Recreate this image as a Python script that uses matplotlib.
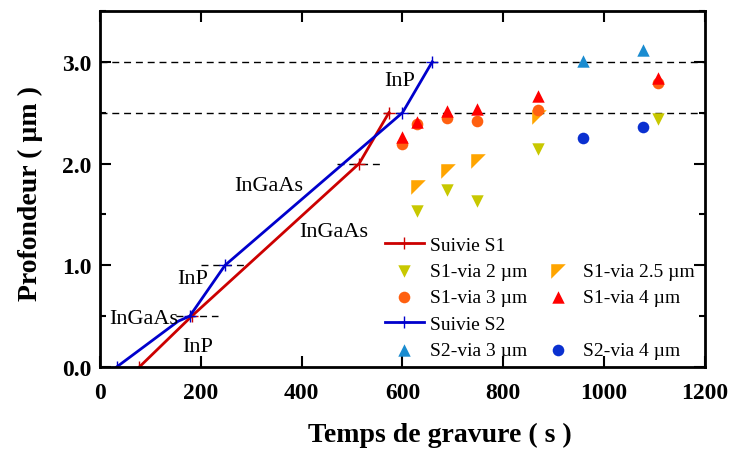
import matplotlib
matplotlib.use("Agg")
import matplotlib.pyplot as plt
from matplotlib.lines import Line2D
from matplotlib.path import Path

plt.rcParams['font.family'] = ['Liberation Serif', 'DejaVu Serif']

# etching follow-up curves
s1_t = [78, 182, 514, 573]
s1_d = [0.0, 0.5, 2.0, 2.5]
s2_t = [33, 155, 178, 248, 600, 659]
s2_d = [0.0, 0.45, 0.5, 1.0, 2.5, 3.0]

# via depths, sample S1
s1v2_t = [629, 688, 748, 869, 1107]
s1v2_d = [1.53, 1.74, 1.63, 2.14, 2.44]
s1v25_t = [631, 690, 750, 870]
s1v25_d = [1.77, 1.93, 2.03, 2.46]
s1v3_t = [599, 629, 688, 748, 869, 1107]
s1v3_d = [2.19, 2.39, 2.45, 2.42, 2.53, 2.79]
s1v4_t = [599, 629, 688, 748, 869, 1107]
s1v4_d = [2.26, 2.41, 2.52, 2.54, 2.66, 2.84]

# via depths, sample S2
s2v3_t = [958, 1077]
s2v3_d = [3.01, 3.12]
s2v4_t = [958, 1077]
s2v4_d = [2.25, 2.36]

# layer interfaces
full_lines = [2.5, 3.0]
short_lines = [(0.5, 150, 235), (1.0, 200, 290), (2.0, 470, 555)]

# layer names (text, x, y)
layers = [("InP", 595, 2.82), ("InGaAs", 334, 1.78), ("InGaAs", 464, 1.33),
          ("InP", 184, 0.87), ("InGaAs", 87, 0.48), ("InP", 193, 0.20)]

# corner-shaped marker for the 2.5 um vias
corner = Path([(-1, 1), (1, 1), (-1, -1), (-1, 1)],
              [Path.MOVETO, Path.LINETO, Path.LINETO, Path.CLOSEPOLY])

fig = plt.figure(figsize=(7.33, 4.52), dpi=100)
ax = fig.add_axes([0.1364, 0.1858, 0.8254, 0.7877])

for y in full_lines:
    ax.axhline(y, color='black', lw=1, ls=(0, (5, 3.5)), zorder=1)
for y, x0, x1 in short_lines:
    ax.plot([x0, x1], [y, y], color='black', lw=1, ls=(0, (5, 3.5)), zorder=1)

ax.plot(s1_t, s1_d, color='#cc0000', lw=2, marker='+', ms=9, mew=1,
        markevery=[0, 1, 2, 3], label='Suivie S1')
ax.plot(s2_t, s2_d, color='#0000cc', lw=2, marker='+', ms=9, mew=1,
        markevery=[0, 2, 3, 4, 5], label='Suivie S2')

ax.scatter(s1v2_t, s1v2_d, marker='v', s=80, color='#c8c800', lw=0, label='S1-via 2 µm')
ax.scatter(s1v25_t, s1v25_d, marker=corner, s=110, color='#ffa500', lw=0, label='S1-via 2.5 µm')
ax.scatter(s1v3_t, s1v3_d, marker='o', s=70, color='#ff6010', lw=0, label='S1-via 3 µm')
ax.scatter(s1v4_t, s1v4_d, marker='^', s=80, color='#ff0000', lw=0, label='S1-via 4 µm')
ax.scatter(s2v3_t, s2v3_d, marker='^', s=80, color='#1a8cd0', lw=0, label='S2-via 3 µm')
ax.scatter(s2v4_t, s2v4_d, marker='o', s=70, color='#0a30d0', lw=0, label='S2-via 4 µm')

for txt, x, y in layers:
    ax.text(x, y, txt, fontsize=16, ha='center', va='center')

ax.set_xlim(0, 1200)
ax.set_ylim(0, 3.5)
ax.set_xticks(range(0, 1201, 200))
ax.set_yticks([0, 1, 2, 3])
ax.set_yticks([0.5, 1.5, 2.5, 3.5], minor=True)
ax.set_yticklabels(['0.0', '1.0', '2.0', '3.0'])
ax.tick_params(which='both', direction='in', top=True, right=True, width=1.5,
               labelsize=17, pad=6)
ax.tick_params(axis='x', pad=11)
ax.tick_params(which='major', length=8)
ax.tick_params(which='minor', length=4)
for lbl in ax.get_xticklabels() + ax.get_yticklabels():
    lbl.set_fontweight('bold')
for sp in ax.spines.values():
    sp.set_linewidth(2)

ax.set_xlabel('Temps de gravure ( s )', fontsize=20, fontweight='bold')
ax.xaxis.set_label_coords(0.562, -0.155)
ax.set_ylabel('Profondeur ( µm )', fontsize=20, fontweight='bold')
ax.yaxis.set_label_coords(-0.094, 0.49)

# legend: two columns with blanks so that the rows line up as in the figure
h, l = ax.get_legend_handles_labels()
hd = dict(zip(l, h))
blank = Line2D([], [], color='none')
order = [hd['Suivie S1'], hd['S1-via 2 µm'], hd['S1-via 3 µm'], hd['Suivie S2'], hd['S2-via 3 µm'],
         blank, hd['S1-via 2.5 µm'], hd['S1-via 4 µm'], blank, hd['S2-via 4 µm']]
names = ['Suivie S1', 'S1-via 2 µm', 'S1-via 3 µm', 'Suivie S2', 'S2-via 3 µm',
         '', 'S1-via 2.5 µm', 'S1-via 4 µm', '', 'S2-via 4 µm']
ax.legend(order, names, ncol=2, frameon=False, fontsize=14, loc='upper left',
          bbox_to_anchor=(0.455, 0.395), borderpad=0, labelspacing=0.45,
          handlelength=2.0, handletextpad=0.3, columnspacing=0.6)

fig.savefig('out.png', dpi=100)
